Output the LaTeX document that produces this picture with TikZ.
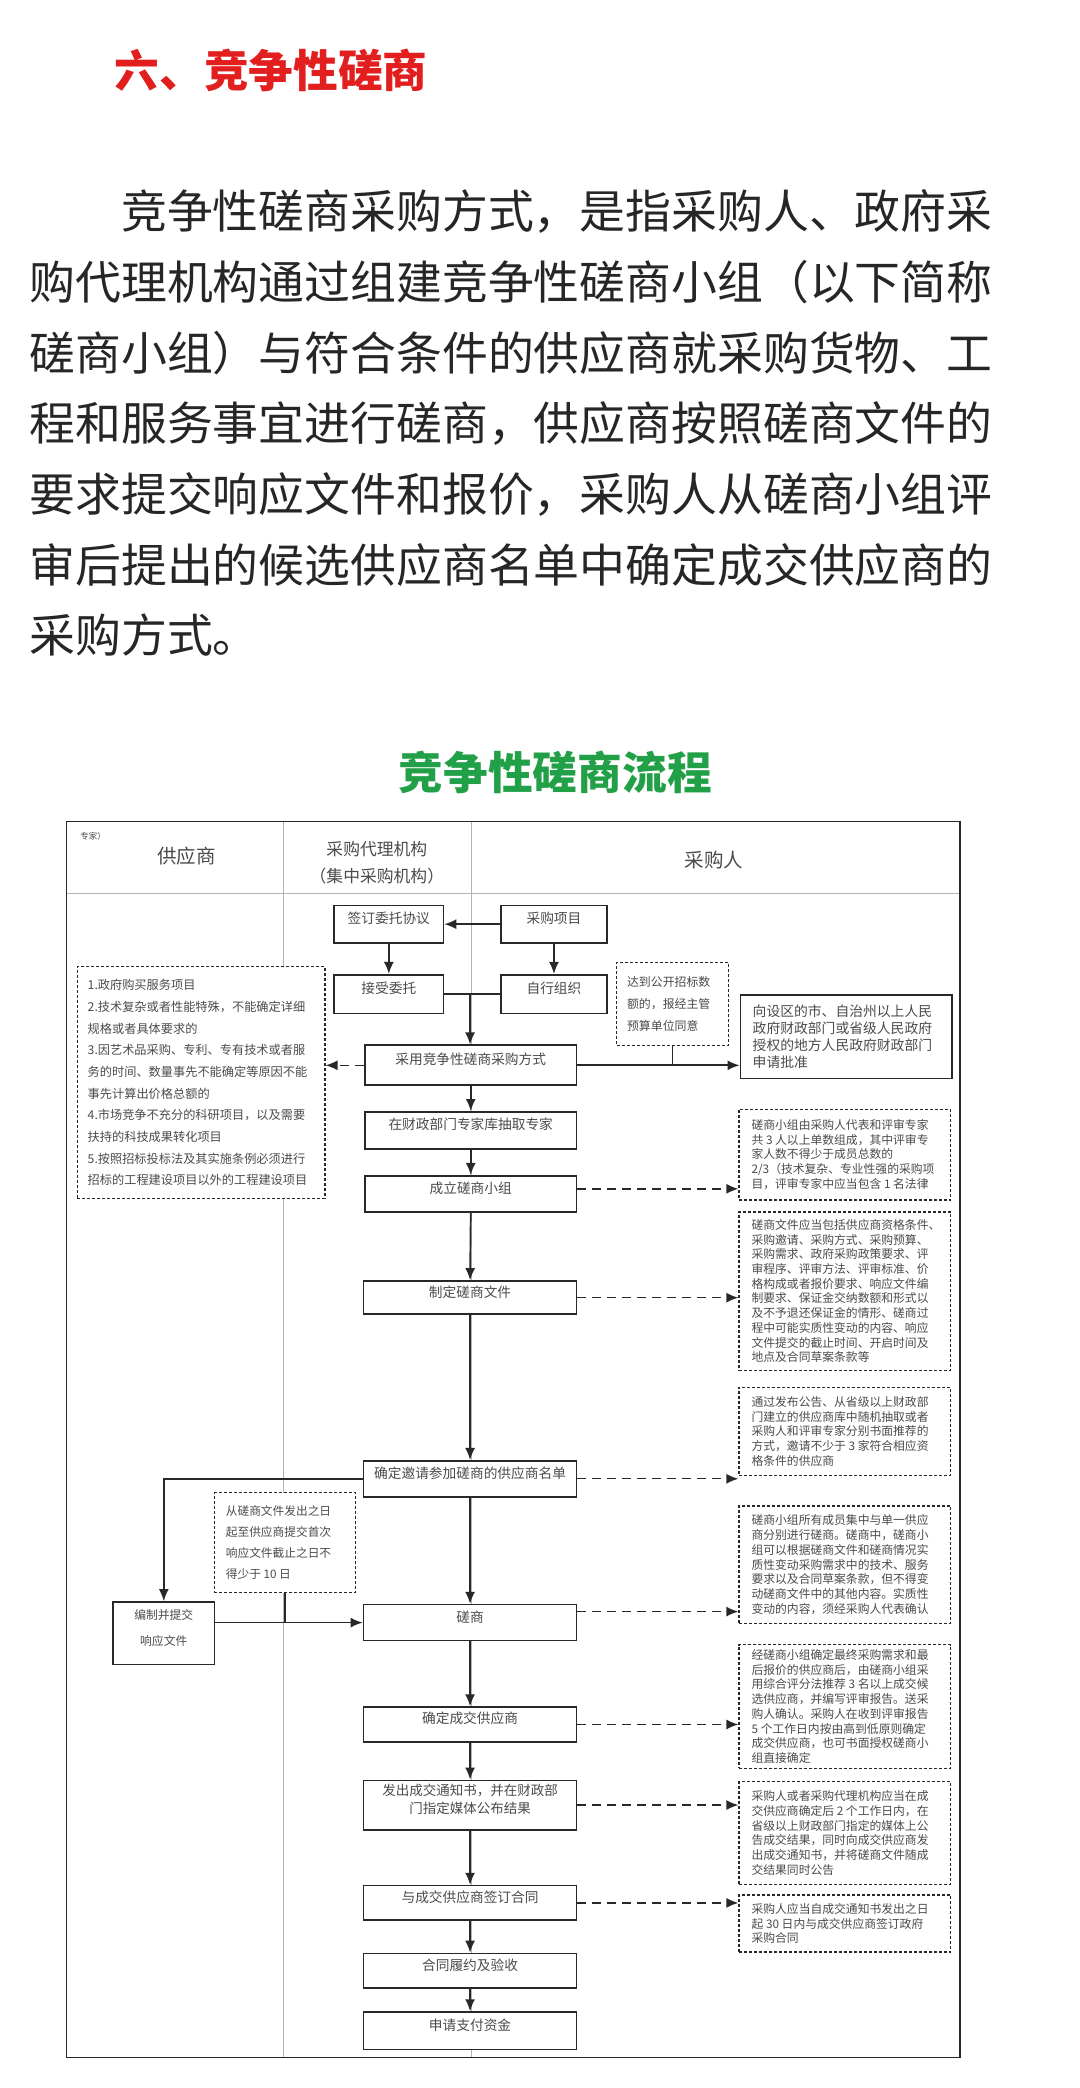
\documentclass[tikz,border=0pt]{standalone}
\usepackage{fontspec}
\setmainfont{Noto Sans CJK SC}
\usetikzlibrary{arrows.meta,fit}
\definecolor{titlered}{RGB}{226,30,30}
\definecolor{titlegreen}{RGB}{34,160,72}
\definecolor{bodytext}{RGB}{38,38,38}
\definecolor{fline}{RGB}{40,40,40}
\definecolor{ftext}{RGB}{75,75,75}
\definecolor{faint}{RGB}{180,180,180}
\begin{document}
\begin{tikzpicture}[x=1.33169pt,y=-1.33169pt,
  box/.style={draw=fline, line width=1.7pt, fill=white, inner sep=0pt, text=ftext, align=center, font=\fontsize{13.7pt}{18pt}\selectfont},
  dbox/.style={draw=fline, line width=1.4pt, dash pattern=on 3pt off 2pt, fill=white, inner sep=0pt},
  arr/.style={draw=fline, line width=1.7pt, -{Latex[length=12pt,width=10pt]}},
  darr/.style={draw=fline, line width=1.4pt, dash pattern=on 9pt off 6pt, -{Latex[length=12pt,width=10pt]}},
  ln/.style={draw=fline, line width=1.7pt},
  rtext/.style={anchor=west, inner sep=0pt, align=left, text=ftext, font=\fontsize{11.8pt}{14.7pt}\selectfont},
  htext/.style={inner sep=0pt, text=ftext, align=center},
  ptext/.style={anchor=west, inner sep=0pt, text=bodytext, font=\fontsize{45.86pt}{50pt}\selectfont},
]
\useasboundingbox[fill=white] (0,0) rectangle (811,1568);

% ---------- article text ----------
\node[anchor=west, inner sep=0pt, text=titlered, font=\fontsize{44.7pt}{50pt}\selectfont\bfseries] (t1) at (86,53) {六、竞争性磋商};
\node[ptext] (p1) at (90.9,159) {竞争性磋商采购方式，是指采购人、政府采};
\node[ptext] (p2) at (22,212) {购代理机构通过组建竞争性磋商小组（以下简称};
\node[ptext] (p3) at (22,265) {磋商小组）与符合条件的供应商就采购货物、工};
\node[ptext] (p4) at (22,318) {程和服务事宜进行磋商，供应商按照磋商文件的};
\node[ptext] (p5) at (22,371) {要求提交响应文件和报价，采购人从磋商小组评};
\node[ptext] (p6) at (22,424) {审后提出的候选供应商名单中确定成交供应商的};
\node[ptext] (p7) at (22,477) {采购方式。};
\node[inner sep=0pt, text=titlegreen, font=\fontsize{44.7pt}{50pt}\selectfont\bfseries] (t2) at (417,580) {竞争性磋商流程};

% ---------- frame ----------
\draw[faint, line width=1.2pt] (50,671) -- (721,671);
\draw[faint, line width=1.2pt] (213,617) -- (213,1545);
\draw[faint, line width=1.2pt] (354,617) -- (354,1545);
\draw[draw=fline, line width=1.6pt] (50,617) rectangle (721,1545);

\node[htext, font=\fontsize{8.5pt}{10pt}\selectfont] (hz) at (70,628) {专家）};
\node[htext, font=\fontsize{19.5pt}{20pt}\selectfont] (h1) at (140,643) {供应商};
\node[htext, font=\fontsize{16.8pt}{26.6pt}\selectfont] (h2) at (283,648) {采购代理机构\\（集中采购机构）};
\node[htext, font=\fontsize{19.5pt}{20pt}\selectfont] (h3) at (536,646) {采购人};

% ---------- main boxes ----------
\node[box, fit={(251,680) (333,708)}] (qd) {签订委托协议};
\node[box, fit={(376,680) (456,708)}] (xm) {采购项目};
\node[box, fit={(251,732) (333,761)}] (js) {接受委托};
\node[box, fit={(376,732) (456,761)}] (zx) {自行组织};
\node[box, fit={(274,785) (433,815)}] (cy) {采用竞争性磋商采购方式};
\node[box, fit={(274,835) (433,863)}] (zj) {在财政部门专家库抽取专家};
\node[box, fit={(274,883) (433,910)}] (cl) {成立磋商小组};
\node[box, fit={(273,962) (433,987)}] (zd) {制定磋商文件};
\node[box, fit={(273,1097) (433,1124)}] (qy) {确定邀请参加磋商的供应商名单};
\node[box, fit={(273,1205) (433,1232)}] (cs) {磋商};
\node[box, fit={(273,1282) (433,1308)}] (cj) {确定成交供应商};
\node[box, fit={(273,1337) (433,1374)}, font=\fontsize{13.5pt}{18pt}\selectfont] (fc) {发出成交通知书，并在财政部\\门指定媒体公布结果};
\node[box, fit={(273,1416) (433,1442)}] (qh) {与成交供应商签订合同};
\node[box, fit={(273,1467) (433,1493)}] (ly) {合同履约及验收};
\node[box, fit={(273,1511) (433,1539)}] (sq) {申请支付资金};
\node[box, fit={(85,1203) (161,1250)}, font=\fontsize{11.8pt}{26pt}\selectfont] (bz) {编制并提交\\响应文件};

% right solid box
\node[box, fit={(556,747) (715,810)}] (sp) {};
\node[rtext, font=\fontsize{13.8pt}{17.3pt}\selectfont] (spt) at ([xshift=13pt]sp.west) {向设区的市、自治州以上人民\\政府财政部门或省级人民政府\\授权的地方人民政府财政部门\\申请批准};

% ---------- dashed boxes ----------
\node[dbox, fit={(58,726) (244,900)}] (lb) {};
\node[rtext, font=\fontsize{12.2pt}{21.7pt}\selectfont] (lbt) at ([xshift=11pt]lb.west) {1.政府购买服务项目\\2.技术复杂或者性能特殊，不能确定详细\\规格或者具体要求的\\3.因艺术品采购、专利、专有技术或者服\\务的时间、数量事先不能确定等原因不能\\事先计算出价格总额的\\4.市场竞争不充分的科研项目，以及需要\\扶持的科技成果转化项目\\5.按照招标投标法及其实施条例必须进行\\招标的工程建设项目以外的工程建设项目};

\node[dbox, fit={(463,723) (547,785)}] (dd) {};
\node[rtext, font=\fontsize{11.9pt}{22pt}\selectfont] (ddt) at ([xshift=11pt]dd.west) {达到公开招标数\\额的，报经主管\\预算单位同意};

\node[dbox, fit={(161,1121) (267,1196)}] (dl) {};
\node[rtext, font=\fontsize{11.7pt}{21pt}\selectfont] (dlt) at ([xshift=12pt]dl.west) {从磋商文件发出之日\\起至供应商提交首次\\响应文件截止之日不\\得少于 10 日};

\node[dbox, fit={(555,833) (714,901)}] (ra) {};
\node[rtext] (rat) at ([xshift=13pt]ra.west) {磋商小组由采购人代表和评审专家\\共 3 人以上单数组成，其中评审专\\家人数不得少于成员总数的\\2/3（技术复杂、专业性强的采购项\\目，评审专家中应当包含 1 名法律};

\node[dbox, fit={(555,910) (714,1029)}] (rb) {};
\node[rtext] (rbt) at ([xshift=13pt]rb.west) {磋商文件应当包括供应商资格条件、\\采购邀请、采购方式、采购预算、\\采购需求、政府采购政策要求、评\\审程序、评审方法、评审标准、价\\格构成或者报价要求、响应文件编\\制要求、保证金交纳数额和形式以\\及不予退还保证金的情形、磋商过\\程中可能实质性变动的内容、响应\\文件提交的截止时间、开启时间及\\地点及合同草案条款等};

\node[dbox, fit={(555,1042) (714,1108)}] (rc) {};
\node[rtext] (rct) at ([xshift=13pt]rc.west) {通过发布公告、从省级以上财政部\\门建立的供应商库中随机抽取或者\\采购人和评审专家分别书面推荐的\\方式，邀请不少于 3 家符合相应资\\格条件的供应商};

\node[dbox, fit={(555,1131) (714,1219)}] (rd) {};
\node[rtext] (rdt) at ([xshift=13pt]rd.west) {磋商小组所有成员集中与单一供应\\商分别进行磋商。磋商中，磋商小\\组可以根据磋商文件和磋商情况实\\质性变动采购需求中的技术、服务\\要求以及合同草案条款，但不得变\\动磋商文件中的其他内容。实质性\\变动的内容，须经采购人代表确认};

\node[dbox, fit={(555,1235) (714,1328)}] (re) {};
\node[rtext] (ret) at ([xshift=13pt]re.west) {经磋商小组确定最终采购需求和最\\后报价的供应商后，由磋商小组采\\用综合评分法推荐 3 名以上成交候\\选供应商，并编写评审报告。送采\\购人确认。采购人在收到评审报告\\5 个工作日内按由高到低原则确定\\成交供应商，也可书面授权磋商小\\组直接确定};

\node[dbox, fit={(555,1338) (714,1415)}] (rf) {};
\node[rtext] (rft) at ([xshift=13pt]rf.west) {采购人或者采购代理机构应当在成\\交供应商确定后 2 个工作日内，在\\省级以上财政部门指定的媒体上公\\告成交结果，同时向成交供应商发\\出成交通知书，并将磋商文件随成\\交结果同时公告};

\node[dbox, fit={(555,1423) (714,1466)}] (rg) {};
\node[rtext] (rgt) at ([xshift=13pt]rg.west) {采购人应当自成交通知书发出之日\\起 30 日内与成交供应商签订政府\\采购合同};

% ---------- connectors ----------
\draw[arr] (xm.west) -- (qd.east);
\draw[arr] (qd.south) -- (js.north);
\draw[arr] (xm.south) -- (zx.north);
\draw[ln] (js.east) -- (zx.west);
\coordinate (jn) at (353,746.5);
\draw[arr] (jn) -- (jn |- cy.north);
\draw[darr] (cy.west) -- (cy.west -| lb.east);
\draw[arr] (cy.east) -- (cy.east -| sp.west);
\draw[ln] (dd.south) -- (dd.south |- cy.east);

\draw[arr] (cy.south) -- (zj.north);
\draw[arr] (zj.south) -- (cl.north);
\draw[arr] (cl.south) -- (zd.north);
\draw[arr] (zd.south) -- (qy.north);
\draw[arr] (qy.south) -- (cs.north);
\draw[arr] (cs.south) -- (cj.north);
\draw[arr] (cj.south) -- (fc.north);
\draw[arr] (fc.south) -- (qh.north);
\draw[arr] (qh.south) -- (ly.north);
\draw[arr] (ly.south) -- (sq.north);

\coordinate (clr) at ([yshift=5pt]cl.east);
\draw[darr] (clr) -- (clr -| ra.west);
\draw[darr] (zd.east) -- (zd.east -| rb.west);
\draw[darr] (qy.east) -- (qy.east -| rc.west);
\coordinate (csr) at ([yshift=11pt]cs.east);
\draw[darr] (csr) -- (csr -| rd.west);
\draw[darr] (cj.east) -- (cj.east -| re.west);
\draw[darr] (fc.east) -- (fc.east -| rf.west);
\draw[darr] (qh.east) -- (qh.east -| rg.west);

\draw[arr] (qy.west) -- (qy.west -| bz.north) -- (bz.north);
\draw[arr] (cs.west -| bz.east) -- (cs.west);
\draw[ln] (dl.south) -- (dl.south |- cs.west);
\end{tikzpicture}
\end{document}
